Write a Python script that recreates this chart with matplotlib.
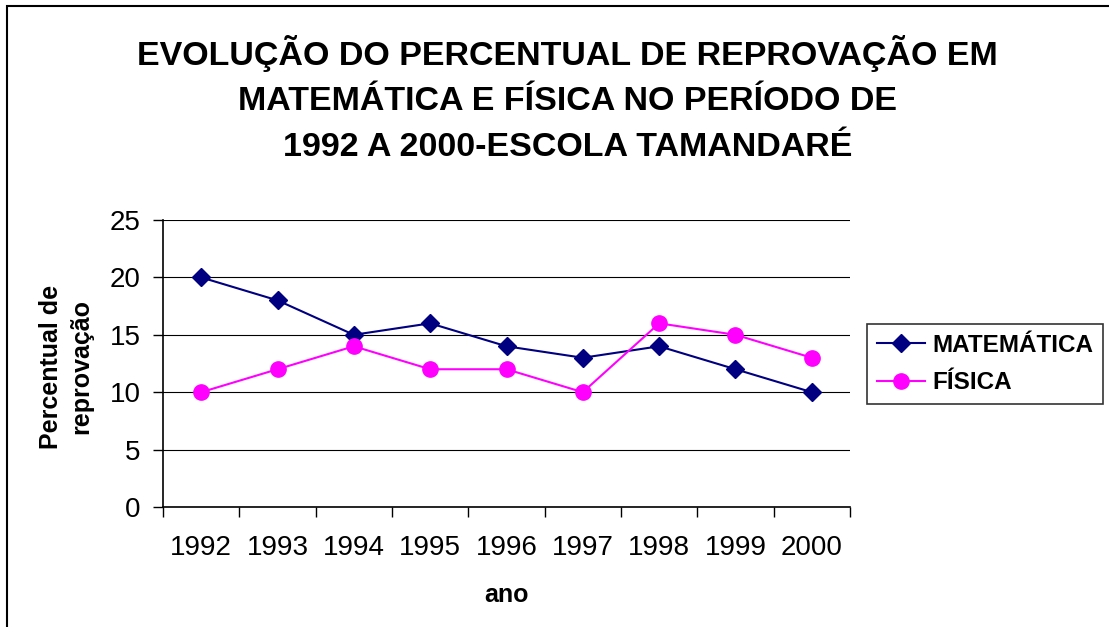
import matplotlib
matplotlib.use('Agg')
import matplotlib.pyplot as plt
from matplotlib.patches import Rectangle

anos = ['1992', '1993', '1994', '1995', '1996', '1997', '1998', '1999', '2000']
matematica = [20, 18, 15, 16, 14, 13, 14, 12, 10]
fisica = [10, 12, 14, 12, 12, 10, 16, 15, 13]

plt.rcParams['font.family'] = ['Liberation Sans', 'DejaVu Sans']

fig = plt.figure(figsize=(11.09, 6.27), dpi=100)
ax = fig.add_axes([163/1109, 1-507/627, (850-163)/1109, (507-220)/627])

x = list(range(len(anos)))
ax.plot(x, matematica, color='#000080', marker='D', markersize=9, lw=1.5, label='MATEMÁTICA')
ax.plot(x, fisica, color='#FF00FF', marker='o', markersize=11, lw=1.5, label='FÍSICA')

ax.set_xlim(-0.5, len(anos)-0.5)
ax.set_ylim(0, 25)
ax.set_yticks(range(0, 26, 5))
ax.grid(axis='y', color='black', lw=0.8)
ax.set_axisbelow(True)
ax.set_xticks(x)
ax.set_xticklabels(anos)
ax.set_xticks([i-0.5 for i in range(len(anos)+1)], minor=True)
ax.tick_params(axis='x', which='major', length=0, labelsize=20, pad=20)
ax.tick_params(axis='x', which='minor', length=7, width=1, direction='out')
ax.tick_params(axis='y', length=7, width=1, labelsize=20, pad=9)
for s in ['top', 'right']:
    ax.spines[s].set_visible(False)
for s in ['left', 'bottom']:
    ax.spines[s].set_linewidth(1.2)

ax.set_xlabel('ano', fontsize=18, fontweight='bold', labelpad=16)
fig.text(66/1109, 1-367/627, 'Percentual de\nreprovação', rotation=90, ha='center', va='center',
         fontsize=18, fontweight='bold', linespacing=1.3)

fig.text(0.512, 1-99/627, 'EVOLUÇÃO DO PERCENTUAL DE REPROVAÇÃO EM\nMATEMÁTICA E FÍSICA NO PERÍODO DE\n1992 A 2000-ESCOLA TAMANDARÉ',
         ha='center', va='center', fontsize=24.5, fontweight='bold', linespacing=1.62)

leg = fig.legend(loc='center left', bbox_to_anchor=(867/1109, 1-364/627),
                 prop={'weight': 'bold', 'size': 17.5}, frameon=True, fancybox=False,
                 edgecolor='black', borderpad=0.4, handlelength=2.0, handletextpad=0.3,
                 labelspacing=0.6, borderaxespad=0)
leg.get_frame().set_linewidth(1.2)

fig.patches.append(Rectangle((7/1109, -0.1), 1.2, 1-6/627+0.1, transform=fig.transFigure,
                             fill=False, edgecolor='black', lw=1.5))

fig.savefig('out.png', dpi=100)
